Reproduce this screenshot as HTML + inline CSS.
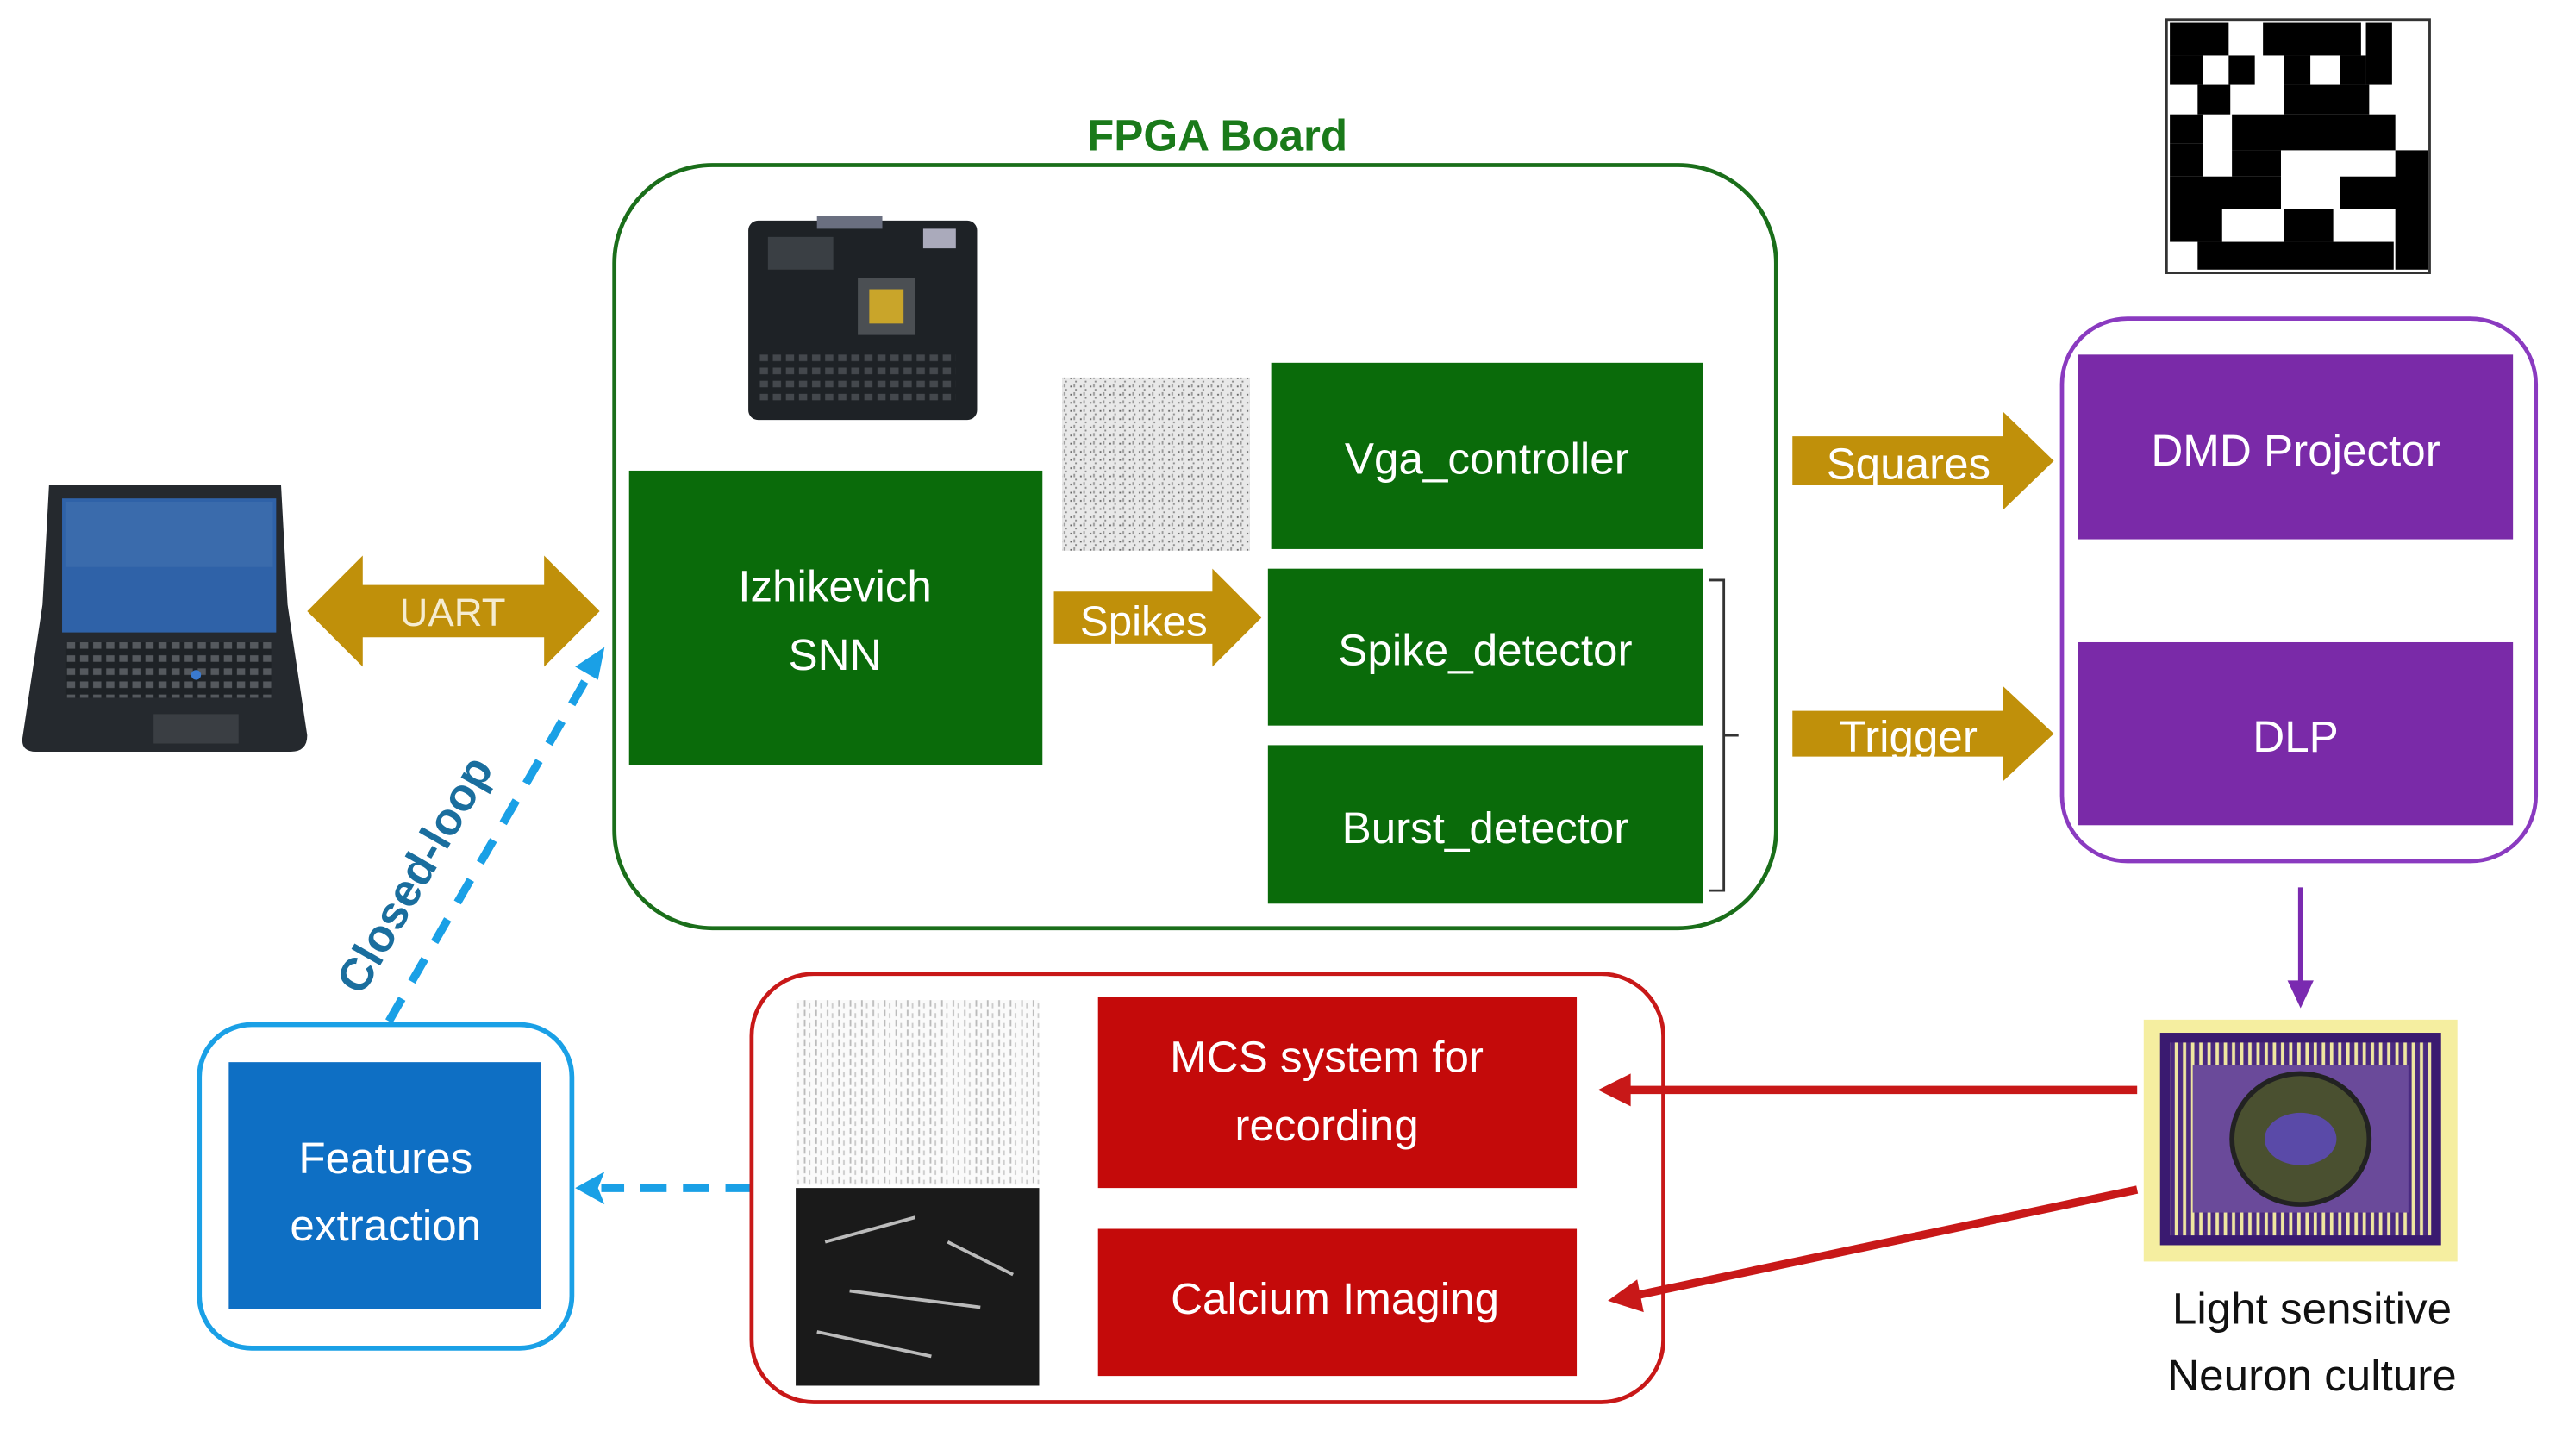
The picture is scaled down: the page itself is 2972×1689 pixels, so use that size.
<!DOCTYPE html>
<html><head><meta charset="utf-8"><style>
html,body{margin:0;padding:0;background:#fff;}
svg{display:block;}
text{font-family:"Liberation Sans",sans-serif;}
</style></head><body>
<svg width="2972" height="1689" viewBox="0 0 1568 891" preserveAspectRatio="none" xmlns="http://www.w3.org/2000/svg">
<defs>
<pattern id="rast" width="6" height="5" patternUnits="userSpaceOnUse">
<rect width="6" height="5" fill="#e8e8e8"/><rect x="1" y="1" width="1" height="1" fill="#666"/><rect x="4" y="3" width="1" height="1" fill="#888"/><rect x="3" y="0" width="1" height="2" fill="#999"/>
</pattern>
<pattern id="rast2" width="7" height="6" patternUnits="userSpaceOnUse">
<rect width="7" height="6" fill="#fafafa"/><rect x="2" y="0" width="1" height="4" fill="#bbb"/><rect x="5" y="2" width="1" height="3" fill="#ccc"/>
</pattern>
<pattern id="keys" width="8" height="8" patternUnits="userSpaceOnUse">
<rect width="8" height="8" fill="#1e2226"/><rect x="1" y="1" width="5" height="4" fill="#55595e"/>
</pattern>
<pattern id="pins" width="5" height="5" patternUnits="userSpaceOnUse">
<rect width="5" height="5" fill="#4a2a80"/><rect x="1" y="0" width="2" height="5" fill="#efe6a0"/>
</pattern>
</defs>

<!-- QR-like pattern -->
<rect x="1326" y="12" width="161" height="155" fill="#fff" stroke="#333" stroke-width="1.5"/>
<g fill="#000">
<rect x="1328" y="14" width="36" height="20"/><rect x="1385" y="14" width="60" height="20"/><rect x="1448" y="14" width="16" height="38"/>
<rect x="1328" y="34" width="20" height="18"/><rect x="1364" y="34" width="16" height="18"/><rect x="1398" y="34" width="16" height="18"/><rect x="1432" y="34" width="16" height="18"/>
<rect x="1345" y="52" width="20" height="18"/><rect x="1398" y="52" width="52" height="18"/>
<rect x="1328" y="70" width="20" height="18"/><rect x="1366" y="70" width="100" height="22"/>
<rect x="1328" y="88" width="20" height="20"/><rect x="1366" y="92" width="30" height="16"/><rect x="1466" y="92" width="20" height="18"/>
<rect x="1328" y="108" width="68" height="20"/><rect x="1432" y="108" width="54" height="20"/>
<rect x="1328" y="128" width="32" height="20"/><rect x="1398" y="128" width="30" height="20"/><rect x="1466" y="128" width="20" height="37"/>
<rect x="1345" y="148" width="120" height="17"/>
</g>

<!-- FPGA board -->
<text x="745" y="92" font-size="27" font-weight="bold" fill="#1a7a1a" text-anchor="middle">FPGA Board</text>
<rect x="376" y="101" width="711" height="467" rx="60" ry="60" fill="none" stroke="#1a6e1a" stroke-width="2.5"/>
<!-- board image -->
<rect x="458" y="135" width="140" height="122" rx="6" fill="#1e2226"/>
<rect x="470" y="145" width="40" height="20" fill="#3a3f44"/><rect x="525" y="170" width="35" height="35" fill="#4b4f53"/><rect x="532" y="177" width="21" height="21" fill="#c9a52a"/>
<rect x="565" y="140" width="20" height="12" fill="#aab"/><rect x="500" y="132" width="40" height="8" fill="#6a6f80"/>
<rect x="465" y="215" width="120" height="30" fill="url(#keys)" opacity="0.7"/>
<!-- raster -->
<rect x="650" y="231" width="115" height="106" fill="url(#rast)"/>

<rect x="385" y="288" width="253" height="180" fill="#0a6b0a"/>
<text x="511" y="368" font-size="27" fill="#fff" text-anchor="middle">Izhikevich</text>
<text x="511" y="410" font-size="27" fill="#fff" text-anchor="middle">SNN</text>

<rect x="778" y="222" width="264" height="114" fill="#0a6b0a"/>
<text x="910" y="290" font-size="27" fill="#fff" text-anchor="middle">Vga_controller</text>
<rect x="776" y="348" width="266" height="96" fill="#0a6b0a"/>
<text x="909" y="407" font-size="27" fill="#fff" text-anchor="middle">Spike_detector</text>
<rect x="776" y="456" width="266" height="97" fill="#0a6b0a"/>
<text x="909" y="516" font-size="27" fill="#fff" text-anchor="middle">Burst_detector</text>
<path d="M1046 355 H1055 V545 H1046 M1055 450 H1064" fill="none" stroke="#333" stroke-width="1.5"/>

<!-- Spikes arrow -->
<path d="M645 362 H742 V348 L772 378 L742 408 V394 H645 Z" fill="#c0900a"/>
<text x="700" y="389" font-size="26" fill="#fff" text-anchor="middle">Spikes</text>

<!-- UART -->
<path d="M188 374 L222 340 V358 H333 V340 L367 374 L333 408 V390 H222 V408 Z" fill="#c0900a"/>
<text x="277" y="383" font-size="24" fill="#f5ecd0" text-anchor="middle">UART</text>

<!-- laptop -->
<path d="M30 297 H172 L176 370 L188 450 Q188 460 178 460 H22 Q12 460 14 450 L26 370 Z" fill="#25292e"/>
<rect x="38" y="305" width="131" height="82" fill="#2f62a8"/>
<rect x="40" y="307" width="127" height="40" fill="#4674b0" opacity="0.5"/>
<rect x="40" y="393" width="126" height="34" fill="url(#keys)"/>
<rect x="94" y="437" width="52" height="18" fill="#3a3e43"/>
<circle cx="120" cy="413" r="3" fill="#3a7ad0"/>

<!-- closed loop -->
<line x1="238" y1="625" x2="362" y2="410" stroke="#1aa0e6" stroke-width="5" stroke-dasharray="16,12"/>
<path d="M370 396 L352 408 L366 416 Z" fill="#1aa0e6"/>
<text x="0" y="0" font-size="28" font-weight="bold" fill="#1a6e9e" text-anchor="middle" transform="translate(262,540) rotate(-60)">Closed-loop</text>

<!-- Features -->
<rect x="122" y="627" width="228" height="198" rx="32" fill="none" stroke="#1aa0e6" stroke-width="3"/>
<rect x="140" y="650" width="191" height="151" fill="#0e6fc4"/>
<text x="236" y="718" font-size="27" fill="#fff" text-anchor="middle">Features</text>
<text x="236" y="759" font-size="27" fill="#fff" text-anchor="middle">extraction</text>
<line x1="460" y1="727" x2="368" y2="727" stroke="#1aa0e6" stroke-width="5" stroke-dasharray="16,10"/>
<path d="M352 727 L370 717 L366 727 L370 737 Z" fill="#1aa0e6"/>

<!-- red group -->
<rect x="460" y="596" width="558" height="262" rx="38" fill="none" stroke="#c81818" stroke-width="2.5"/>
<rect x="487" y="612" width="149" height="113" fill="url(#rast2)"/>
<rect x="487" y="727" width="149" height="121" fill="#1a1a1a"/>
<g stroke="#bbb" stroke-width="2"><line x1="505" y1="760" x2="560" y2="745"/><line x1="520" y1="790" x2="600" y2="800"/><line x1="500" y1="815" x2="570" y2="830"/><line x1="580" y1="760" x2="620" y2="780"/></g>
<rect x="672" y="610" width="293" height="117" fill="#c40a0a"/>
<text x="812" y="656" font-size="27" fill="#fff" text-anchor="middle">MCS system for</text>
<text x="812" y="698" font-size="27" fill="#fff" text-anchor="middle">recording</text>
<rect x="672" y="752" width="293" height="90" fill="#c40a0a"/>
<text x="817" y="804" font-size="27" fill="#fff" text-anchor="middle">Calcium Imaging</text>

<!-- red arrows -->
<line x1="1308" y1="667" x2="995" y2="667" stroke="#c81818" stroke-width="5"/>
<path d="M978 667 L998 657 L998 677 Z" fill="#c81818"/>
<line x1="1308" y1="728" x2="1000" y2="793" stroke="#c81818" stroke-width="5"/>
<path d="M984 796 L1002 783 L1006 803 Z" fill="#c81818"/>

<!-- chip -->
<rect x="1312" y="624" width="192" height="148" fill="#f5eea0"/>
<rect x="1322" y="632" width="172" height="130" fill="#3a1a70"/>
<rect x="1328" y="638" width="160" height="118" fill="url(#pins)"/>
<rect x="1342" y="652" width="132" height="90" fill="#6a4a9a"/>
<ellipse cx="1408" cy="697" rx="42" ry="40" fill="#4a5030" stroke="#222" stroke-width="3"/>
<ellipse cx="1408" cy="697" rx="22" ry="16" fill="#5a4aa8"/>
<text x="1415" y="810" font-size="27" fill="#111" text-anchor="middle">Light sensitive</text>
<text x="1415" y="851" font-size="27" fill="#111" text-anchor="middle">Neuron culture</text>

<!-- purple arrow -->
<line x1="1408" y1="543" x2="1408" y2="605" stroke="#7a2ab0" stroke-width="3"/>
<path d="M1400 600 L1416 600 L1408 617 Z" fill="#7a2ab0"/>

<!-- purple group -->
<rect x="1262" y="195" width="290" height="332" rx="40" fill="none" stroke="#8a3ac0" stroke-width="2.5"/>
<rect x="1272" y="217" width="266" height="113" fill="#7a2aa8"/>
<text x="1405" y="285" font-size="27" fill="#fff" text-anchor="middle">DMD Projector</text>
<rect x="1272" y="393" width="266" height="112" fill="#7a2aa8"/>
<text x="1405" y="460" font-size="27" fill="#fff" text-anchor="middle">DLP</text>

<!-- Squares / Trigger arrows -->
<path d="M1097 267 H1226 V252 L1257 282 L1226 312 V297 H1097 Z" fill="#c0900a"/>
<text x="1168" y="293" font-size="27" fill="#fff" text-anchor="middle">Squares</text>
<path d="M1097 435 H1226 V420 L1257 449 L1226 478 V463 H1097 Z" fill="#c0900a"/>
<text x="1168" y="460" font-size="27" fill="#fff" text-anchor="middle">Trigger</text>
</svg>
</body></html>
